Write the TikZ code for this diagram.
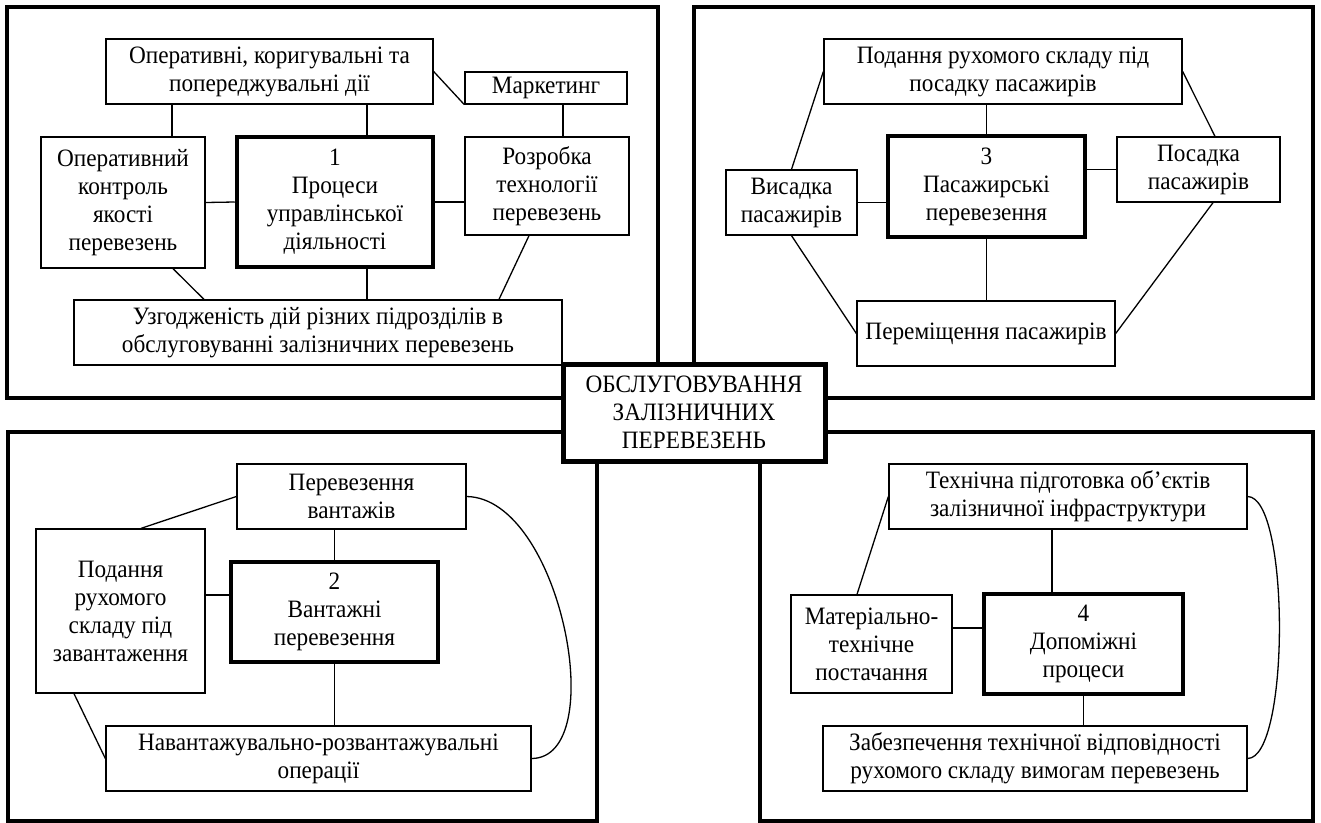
\documentclass[tikz,border=0pt]{standalone}
\usepackage{fontspec}
\setmainfont{Liberation Serif}[FakeStretch=0.93]
\usetikzlibrary{positioning, calc}

\begin{document}
\begin{tikzpicture}[x=1pt, y=-1pt,
    box/.style={draw, line width=1.3pt, fill=white, align=center, inner sep=1pt, font=\fontsize{25}{28}\selectfont},
    mainbox/.style={box, line width=4.5pt},
    panel/.style={draw, line width=4pt},
    link/.style={draw, line width=1.3pt}]

        \useasboundingbox (0,0) rectangle (1321,822);

        % ------------------ Panels ------------------
        \draw[panel] (7,7) rectangle (658,398);
        \draw[panel] (694,7) rectangle (1313,398);
        \draw[panel] (8,432) rectangle (597,821);
        \draw[panel] (760,432) rectangle (1313,821);

        % ------------------ 1: management ------------------
        \node[box, minimum width=327pt, minimum height=65pt] (ops) at (269.5,71.5) {Оперативні, коригувальні та\\попереджувальні дії};
        \node[box, minimum width=162pt, minimum height=32pt] (mark) at (546,88) {Маркетинг};
        \node[box, minimum width=164pt, minimum height=131pt] (okya) at (123,202.5) {Оперативний\\контроль\\якості\\перевезень};
        \node[mainbox, minimum width=196pt, minimum height=130pt] (proc1) at (335,202) {1\\Процеси\\управлінської\\діяльності};
        \node[box, minimum width=164pt, minimum height=98pt] (rozr) at (547,186) {Розробка\\технології\\перевезень};
        \node[box, minimum width=488pt, minimum height=65pt] (uzg) at (318,332.5) {Узгодженість дій різних підрозділів в\\обслуговуванні залізничних перевезень};

        % Links
        \draw[link] (172,0 |- ops.south) -- (172,0 |- okya.north);
        \draw[link] (367,0 |- ops.south) -- (367,0 |- proc1.north);
        \draw[link] (ops.east) -- (mark.south west);
        \draw[link] (563,0 |- mark.south) -- (563,0 |- rozr.north);
        \draw[link] (okya.east) -- (proc1.west);
        \draw[link] (proc1.east) -- (proc1.east -| rozr.west);
        \draw[link] (173,0 |- okya.south) -- (204,0 |- uzg.north);
        \draw[link] (367,0 |- proc1.south) -- (367,0 |- uzg.north);
        \draw[link] (529,0 |- rozr.south) -- (499,0 |- uzg.north);

        % ------------------ 3: passengers ------------------
        \node[box, minimum width=358pt, minimum height=65pt] (pod) at (1003,71.5) {Подання рухомого складу під\\посадку пасажирів};
        \node[box, minimum width=131pt, minimum height=65pt] (vys) at (791.5,202.5) {Висадка\\пасажирів};
        \node[mainbox, minimum width=197pt, minimum height=101pt] (proc3) at (986.5,186.5) {3\\Пасажирські\\перевезення};
        \node[box, minimum width=163pt, minimum height=65pt] (pos) at (1198.5,169.5) {Посадка\\пасажирів};
        \node[box, minimum width=258pt, minimum height=65pt] (perem) at (986,333.5) {Переміщення пасажирів};

        % Links
        \draw[link] (proc3.north) -- (proc3.north |- pod.south);
        \draw[link] (vys.east) -- (vys.east -| proc3.west);
        \draw[link] (pos.west) -- (pos.west -| proc3.east);
        \draw[link] (proc3.south) -- (proc3.south |- perem.north);
        \draw[link] (pod.west) -- (vys.north);
        \draw[link] (pod.east) -- (1215,0 |- pos.north);
        \draw[link] (vys.south) -- (perem.west);
        \draw[link] (1213,0 |- pos.south) -- (perem.east);

        % ------------------ 2: freight ------------------
        \node[box, minimum width=229pt, minimum height=65pt] (vant) at (351.5,496.5) {Перевезення\\вантажів};
        \node[box, minimum width=169pt, minimum height=164pt] (prs) at (120.5,611) {Подання\\рухомого\\складу під\\завантаження};
        \node[mainbox, minimum width=207pt, minimum height=100pt] (proc2) at (334.5,612) {2\\Вантажні\\перевезення};
        \node[box, minimum width=425pt, minimum height=65pt] (nro) at (318.5,758.5) {Навантажувально-розвантажувальні\\операції};

        % Links
        \draw[link] (proc2.north) -- (proc2.north |- vant.south);
        \draw[link] (prs.east |- 0,595) -- (proc2.west |- 0,595);
        \draw[link] (proc2.south) -- (proc2.south |- nro.north);
        \draw[link] (vant.west) -- (141,0 |- prs.north);
        \draw[link] (74,0 |- prs.south) -- (nro.west);
        \draw[link] (vant.east) .. controls (561,498) and (611,758) .. (nro.east);

        % ------------------ 4: auxiliary ------------------
        \node[box, minimum width=358pt, minimum height=65pt] (tp) at (1068,496.5) {Технічна підготовка об’єктів\\залізничної інфраструктури};
        \node[box, minimum width=161pt, minimum height=98pt] (mtp) at (871.5,644) {Матеріально-\\технічне\\постачання};
        \node[mainbox, minimum width=199pt, minimum height=100pt] (proc4) at (1083.5,644) {4\\Допоміжні\\процеси};
        \node[box, minimum width=424pt, minimum height=65pt] (zab) at (1035,758.5) {Забезпечення технічної відповідності\\рухомого складу вимогам перевезень};

        % Links
        \draw[link] (1052,0 |- tp.south) -- (1052,0 |- proc4.north);
        \draw[link] (mtp.east |- 0,628) -- (proc4.west |- 0,628);
        \draw[link] (proc4.south) -- (proc4.south |- zab.north);
        \draw[link] (tp.west) -- (857,0 |- mtp.north);
        \draw[link] (tp.east) .. controls (1290,497) and (1290,758) .. (zab.east);

        % ------------------ Centre ------------------
        \node[box, line width=5pt, minimum width=262pt, minimum height=97pt] (main) at (694,412.5) {ОБСЛУГОВУВАННЯ\\ЗАЛІЗНИЧНИХ\\ПЕРЕВЕЗЕНЬ};

    \end{tikzpicture}
\end{document}
